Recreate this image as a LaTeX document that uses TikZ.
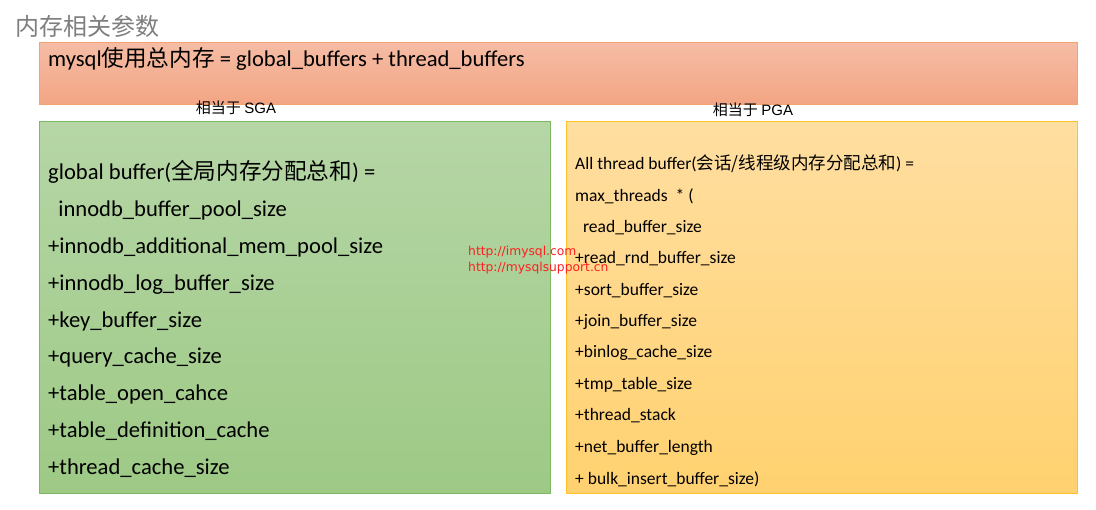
\documentclass[tikz,border=0pt]{standalone}
\usepackage{fontspec}
\setmainfont{Carlito}
\newfontfamily\cjk{Noto Sans CJK SC}
\newfontfamily\urlfont{DejaVu Sans}
\newfontfamily\lblfont{Liberation Sans}
\definecolor{titlegray}{HTML}{7F7F7F}
\definecolor{orTop}{HTML}{F5BCA5}
\definecolor{orBot}{HTML}{F3A584}
\definecolor{orLine}{HTML}{F4A36E}
\definecolor{grTop}{HTML}{B6D6A6}
\definecolor{grBot}{HTML}{9DC985}
\definecolor{grLine}{HTML}{7DB962}
\definecolor{yeTop}{HTML}{FFDEA1}
\definecolor{yeBot}{HTML}{FFD16F}
\definecolor{yeLine}{HTML}{FFC12A}
\definecolor{urlred}{HTML}{FF1F1F}
\tikzset{
  box/.style={rectangle, draw, line width=0.9pt, inner sep=0pt, anchor=north west},
  bigtxt/.style={anchor=base west, inner sep=0pt, font=\fontsize{22.6}{26}\selectfont, text=black},
  midtxt/.style={anchor=base west, inner sep=0pt, font=\fontsize{17.5}{20}\selectfont, text=black},
  lbl/.style={anchor=base, inner sep=0pt, font=\fontsize{15}{18}\selectfont},
  urltxt/.style={anchor=base west, inner sep=0pt, font=\urlfont\fontsize{12.3}{14}\selectfont, text=urlred},
}
\begin{document}
\begin{tikzpicture}[x=1pt,y=-1pt]
\useasboundingbox[fill=white] (0,0) rectangle (1096,510);
% title
\node[anchor=base west, inner sep=0pt, font=\cjk\fontsize{24}{28}\selectfont, text=titlegray] (title) at (15,36) {内存相关参数};
% boxes
\node[box, draw=orLine, top color=orTop, bottom color=orBot, minimum width=1038pt, minimum height=62pt] (top) at (39,42) {};
\node[box, draw=grLine, top color=grTop, bottom color=grBot, minimum width=511pt, minimum height=372pt] (sga) at (39,121) {};
\node[box, draw=yeLine, top color=yeTop, bottom color=yeBot, minimum width=511pt, minimum height=372pt] (pga) at (566,121) {};
% top text
\node[bigtxt] (total) at (48,67) {mysql{\cjk 使用总内存} = global\_buffers + thread\_buffers};
% labels
\node[lbl] (lsga) at (236,114) {{\cjk 相当于} {\lblfont SGA}};
\node[lbl] (lpga) at (753,116) {{\cjk 相当于} {\lblfont PGA}};
% SGA lines
\node[bigtxt] (g0) at (48,180) {global buffer({\cjk 全局内存分配总和}) =};
\node[bigtxt] (g1) at (48,217) {\ \ innodb\_buffer\_pool\_size};
\node[bigtxt] (g2) at (48,254) {+innodb\_additional\_mem\_pool\_size};
\node[bigtxt] (g3) at (48,291) {+innodb\_log\_buffer\_size};
\node[bigtxt] (g4) at (48,328) {+key\_buffer\_size};
\node[bigtxt] (g5) at (48,364) {+query\_cache\_size};
\node[bigtxt] (g6) at (48,401) {+table\_open\_cahce};
\node[bigtxt] (g7) at (48,438) {+table\_definition\_cache};
\node[bigtxt] (g8) at (48,475) {+thread\_cache\_size};
% PGA lines
\node[midtxt] (p0) at (575,170) {All thread buffer({\cjk 会话/线程级内存分配总和}) =};
\node[midtxt] (p1) at (575,202) {max\_threads\ \ * (};
\node[midtxt] (p2) at (575,233) {\ \ read\_buffer\_size};
\node[midtxt] (p3) at (575,264) {+read\_rnd\_buffer\_size};
\node[midtxt] (p4) at (575,296) {+sort\_buffer\_size};
\node[midtxt] (p5) at (575,327) {+join\_buffer\_size};
\node[midtxt] (p6) at (575,358) {+binlog\_cache\_size};
\node[midtxt] (p7) at (575,390) {+tmp\_table\_size};
\node[midtxt] (p8) at (575,421) {+thread\_stack};
\node[midtxt] (p9) at (575,453) {+net\_buffer\_length};
\node[midtxt] (p10) at (575,485) {+ bulk\_insert\_buffer\_size)};
% urls
\node[urltxt] (u1) at (468,256) {http://imysql.com};
\node[urltxt] (u2) at (468,272) {http://mysqlsupport.cn};
\end{tikzpicture}
\end{document}
